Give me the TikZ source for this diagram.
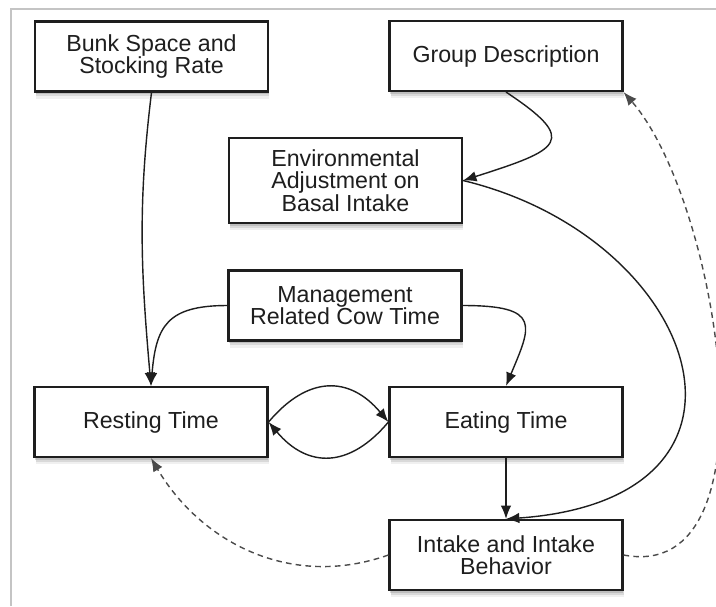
\documentclass[tikz,border=0pt]{standalone}
\usepackage{fontspec}
\setmainfont{Liberation Sans}
\usetikzlibrary{arrows.meta, shadows}
\definecolor{mInk}{HTML}{1E1E1E}
\definecolor{mFrame}{HTML}{C4C4C4}

\begin{document}
\begin{tikzpicture}[x=0.025cm, y=0.025cm,
  box/.style={draw=mInk, line width=1.5pt, fill=white, minimum width=5.825cm, minimum height=1.75cm, align=center, text=mInk, font=\fontsize{16.5}{16}\selectfont,
    drop shadow={shadow xshift=1pt, shadow yshift=-5pt, opacity=0.12},
    drop shadow={shadow xshift=1pt, shadow yshift=-3.5pt, opacity=0.2},
    drop shadow={shadow xshift=0.5pt, shadow yshift=-2pt, opacity=0.3}},
  link/.style={-{Latex[length=9.5pt, width=7.5pt]}, line width=1pt, mInk},
  back/.style={link, dashed, dash pattern=on 4pt off 3pt, mInk!80}]
  \useasboundingbox (0,0) rectangle (716,-606);
  \draw[mFrame, line width=0.8pt] (11,-606) -- (11,-9) -- (716,-9);
  \node[box] (bunk) at (151.5,-56.5) {Bunk Space and\\Stocking Rate};
  \node[box] (grp) at (506,-56) {Group Description};
  \node[box, minimum height=2.125cm] (env) at (345.5,-180.5) {Environmental\\Adjustment on\\Basal Intake};
  \node[box] (mgmt) at (345,-305.5) {Management\\Related Cow Time};
  \node[box] (rest) at (151,-422) {Resting Time};
  \node[box] (eat) at (506,-422) {Eating Time};
  \node[box] (intk) at (506,-555) {Intake and Intake\\Behavior};
  % solid links
  \draw[link] (bunk.south) to[out=-97, in=95] (rest.north);
  \draw[link] (grp.south) .. controls +(74,-49) and +(97,31) .. (env.east);
  \draw[link] (env.east) .. controls +(237,-57) and +(284,20) .. (intk.north);
  \draw[link] (mgmt.west) .. controls +(-60,0) and +(5,60) .. (rest.north);
  \draw[link] (mgmt.east) .. controls +(80,0) and +(25,60) .. (eat.north);
  \draw[link] (rest.east) to[out=50, in=130, looseness=1.3] (eat.west);
  \draw[link] (eat.west) to[out=-130, in=-50, looseness=1.3] (rest.east);
  \draw[link] (eat.south) -- (intk.north);
  % dashed feedback
  \draw[back] (intk.west) .. controls +(-99,-35) and +(49,-83) .. (rest.south);
  \draw[back] (intk.east) .. controls +(157,-30) and +(95,-109) .. (grp.south east);
\end{tikzpicture}
\end{document}
